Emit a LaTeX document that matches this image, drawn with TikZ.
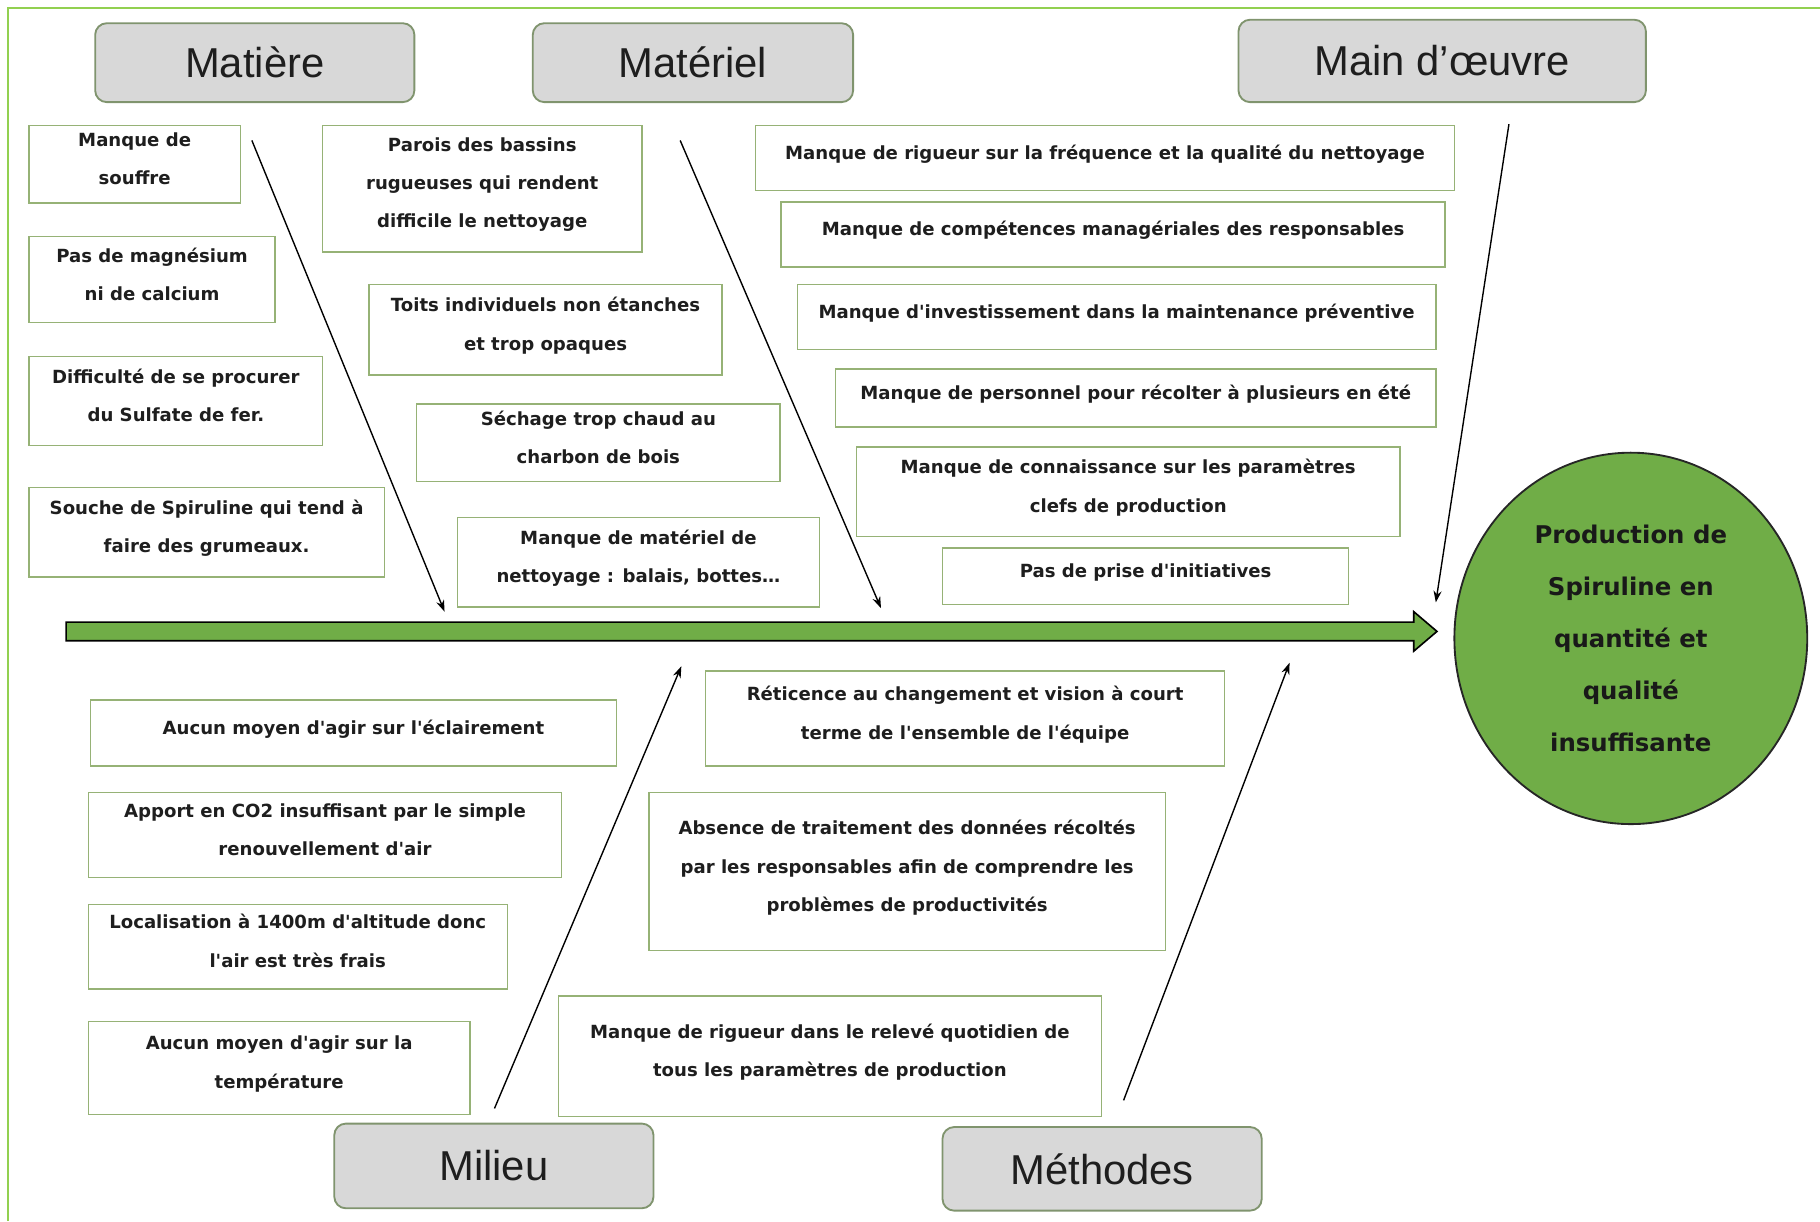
\documentclass[tikz,border=0pt]{standalone}
\usepackage{fontspec}
\setmainfont{Liberation Sans}
\newfontfamily\boxfont{DejaVu Sans}
\usetikzlibrary{arrows.meta,shapes.geometric}

\definecolor{framegreen}{RGB}{146,208,80}
\definecolor{boxgreen}{RGB}{150,178,118}
\definecolor{headgray}{RGB}{216,216,216}
\definecolor{headline}{RGB}{128,148,110}
\definecolor{spinegreen}{RGB}{112,173,71}
\definecolor{txtdark}{RGB}{30,30,30}

\tikzset{
  head/.style={draw=headline, fill=headgray, rounded corners=5pt, line width=0.8pt,
    font=\fontsize{18}{20}\selectfont, text=txtdark},
  cause/.style={draw=boxgreen, fill=white, line width=0.6pt, align=center, inner sep=0pt,
    text depth=5pt, font=\boxfont\bfseries\fontsize{7.8}{16.5}\selectfont, text=txtdark},
  branch/.style={-{Stealth[length=5pt,width=3.5pt]}, line width=0.6pt}
}

\begin{document}
\begin{tikzpicture}[x=0.5pt, y=-0.5pt]
        \useasboundingbox (0,0) rectangle (1568,1052);
        % Frame
        \draw[framegreen, line width=0.6pt] (7,1052) -- (7,7) -- (1568,7);

        % Category headers
        \foreach \name/\xa/\ya/\xb/\yb/\txt in {
            hMatiere/82/20/357/88/{Matière},
            hMateriel/459/20/735/88/{Matériel},
            hMain/1067/17/1418/88/{Main d’œuvre},
            hMilieu/288/968/563/1041/{Milieu},
            hMethodes/812/971/1087/1043/{Méthodes}} {
            \node[head, minimum width={(\xb-\xa)*0.5pt}, minimum height={(\yb-\ya)*0.5pt}]
                (\name) at ({(\xa+\xb)/2},{(\ya+\yb)/2}) {\txt};
        }

        % Causes
        \foreach \name/\xa/\ya/\xb/\yb/\txt in {
            mat1/25/108/207/175/{Manque de\\souffre},
            mat2/25/204/237/278/{Pas de magnésium\\ni de calcium},
            mat3/25/307/278/384/{Difficulté de se procurer\\du Sulfate de fer.},
            mat4/25/420/331/497/{Souche de Spiruline qui tend à\\faire des grumeaux.},
            mtl1/278/108/553/217/{Parois des bassins\\rugueuses qui rendent\\difficile le nettoyage},
            mtl2/318/245/622/323/{Toits individuels non étanches\\et trop opaques},
            mtl3/359/348/672/415/{Séchage trop chaud au\\charbon de bois},
            mtl4/394/446/706/523/{Manque de matériel de\\nettoyage : balais, bottes…},
            mo1/651/108/1253/164/{Manque de rigueur sur la fréquence et la qualité du nettoyage},
            mo2/673/174/1245/230/{Manque de compétences managériales des responsables},
            mo3/687/245/1237/301/{Manque d'investissement dans la maintenance préventive},
            mo4/720/318/1237/368/{Manque de personnel pour récolter à plusieurs en été},
            mo5/738/385/1206/462/{Manque de connaissance sur les paramètres\\clefs de production},
            mo6/812/472/1162/521/{Pas de prise d'initiatives},
            mil1/78/603/531/660/{Aucun moyen d'agir sur l'éclairement},
            mil2/76/683/484/756/{Apport en CO2 insuffisant par le simple\\renouvellement d'air},
            mil3/76/779/437/852/{Localisation à 1400m d'altitude donc\\l'air est très frais},
            mil4/76/880/405/960/{Aucun moyen d'agir sur la\\température},
            met1/608/578/1055/660/{Réticence au changement et vision à court\\terme de l'ensemble de l'équipe},
            met2/559/683/1004/819/{Absence de traitement des données récoltés\\par les responsables afin de comprendre les\\problèmes de productivités},
            met3/481/858/949/962/{Manque de rigueur dans le relevé quotidien de\\tous les paramètres de production}} {
            \node[cause, minimum width={(\xb-\xa)*0.5pt}, minimum height={(\yb-\ya)*0.5pt}]
                (\name) at ({(\xa+\xb)/2},{(\ya+\yb)/2}) {\txt};
        }

        % Effect
        \node[ellipse, draw=black!85, line width=0.8pt, fill=spinegreen, minimum width=152pt,
            minimum height=160pt, align=center, text=black!90,
            font=\boxfont\bfseries\fontsize{10.5}{22.5}\selectfont]
            (effect) at (1405,550) {Production de\\Spiruline en\\quantité et\\qualité\\insuffisante};

        % Spine
        \draw[fill=spinegreen, line width=0.7pt] (57,536) -- (1218,536) -- (1218,527)
            -- (1238,544) -- (1218,561) -- (1218,552) -- (57,552) -- cycle;

        % Branches
        \foreach \s/\sx/\sy/\e/\ex/\ey in {aMat/217/121/bMat/383/527, aMtl/586/121/bMtl/759/524,
            aMo/1300/107/bMo/1237/519, aMil/426/955/bMil/587/574, aMet/968/948/bMet/1111/571} {
            \coordinate (\s) at (\sx,\sy);
            \coordinate (\e) at (\ex,\ey);
            \draw[branch] (\s) -- (\e);
        }
\end{tikzpicture}
\end{document}
